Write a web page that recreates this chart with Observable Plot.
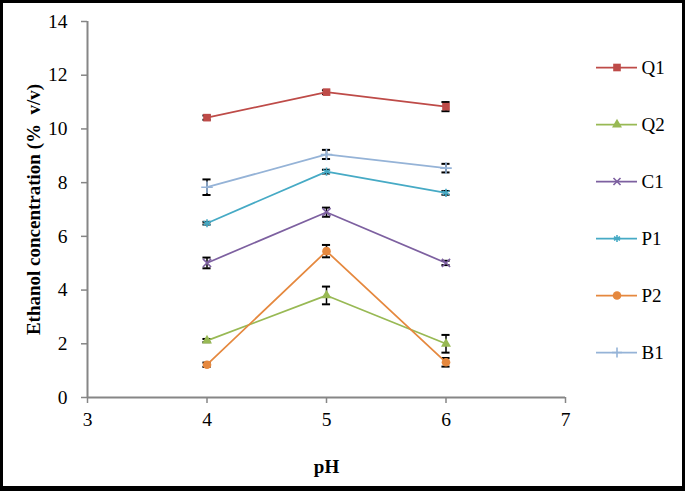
<!DOCTYPE html>
<html>
<head>
<meta charset="utf-8">
<script src="https://cdn.jsdelivr.net/npm/d3@7"></script>
<script src="https://cdn.jsdelivr.net/npm/@observablehq/plot@0.6"></script>
<style>
  html, body { margin: 0; padding: 0; background: white; }
  #wrap { position: relative; width: 685px; height: 491px; overflow: hidden; background: white; }
  #legend { position: absolute; left: 590px; top: 0; }
  #chart { position: absolute; left: 0; top: 0; }
  #border { position: absolute; left: 0; top: 0; width: 685px; height: 491px; box-sizing: border-box;
            border-style: solid; border-color: black; border-width: 3px 3px 5px 3px; pointer-events: none; }
</style>
</head>
<body>
<div id="wrap"><div id="chart"></div><div id="legend"></div><div id="border"></div></div>
<script>
const pH = [4, 5, 6];
const seriesNames = ["Q1", "Q2", "C1", "P1", "P2", "B1"];
const Q1 = [10.42, 11.37, 10.83];
const Q2 = [2.12, 3.80, 2.00];
const C1 = [5.01, 6.90, 5.01];
const P1 = [6.49, 8.41, 7.62];
const P2 = [1.22, 5.45, 1.31];
const B1 = [7.83, 9.05, 8.54];
const errQ1 = [0.08, 0.07, 0.17];
const errQ2 = [0.06, 0.33, 0.33];
const errC1 = [0.20, 0.17, 0.08];
const errP1 = [0.05, 0.07, 0.07];
const errP2 = [0.08, 0.23, 0.16];
const errB1 = [0.29, 0.17, 0.16];
const xTicks = [3, 4, 5, 6, 7];
const yTicks = [0, 2, 4, 6, 8, 10, 12, 14];
const colors = ["#BE4B48", "#98B954", "#7D60A0", "#46AAC5", "#E5883E", "#95B3D7"];
const symbols = ["square", "triangle", "times", "asterisk", "circle", "plus"];
const yLabel = "Ethanol concentration (%  v/v)";
const xLabel = "pH";

const values = [Q1, Q2, C1, P1, P2, B1];
const errs = [errQ1, errQ2, errC1, errP1, errP2, errB1];
const rows = seriesNames.flatMap((n, i) => pH.map((x, j) => ({name: n, pH: x, value: values[i][j], err: errs[i][j]})));
const bigFilled = new Set(["Q1", "P2"]);
const strokeSet = new Set(["C1", "P1", "B1"]);
const capHalf = 0.034;
const font = "'Liberation Serif', 'Times New Roman', serif";

function markerMarks(data, opts) {
  return [
    Plot.dot(data.filter(d => bigFilled.has(opts.name(d))), {...opts.pos, symbol: opts.name, fill: opts.name, r: 4.3}),
    Plot.dot(data.filter(d => opts.name(d) === "Q2"), {...opts.pos, symbol: opts.name, fill: opts.name, r: 3.7}),
    Plot.dot(data.filter(d => strokeSet.has(opts.name(d))), {...opts.pos, symbol: opts.name, stroke: opts.name, r: opts.sr, strokeWidth: 1.6})
  ];
}

const chart = Plot.plot({
  width: 685, height: 491,
  marginLeft: 87, marginRight: 120, marginTop: 21, marginBottom: 94,
  x: {domain: [3, 7]},
  y: {domain: [0, 14]},
  color: {domain: seriesNames, range: colors},
  symbol: {domain: seriesNames, range: symbols},
  style: {fontFamily: font, fontSize: "19px", background: "white", color: "black"},
  marks: [
    Plot.axisY({ticks: yTicks, tickFormat: d => String(d), tickSize: 6, tickPadding: 14, stroke: "#868686", fill: "black", label: null, fontSize: 19.5, strokeWidth: 1.5}),
    Plot.axisX({ticks: xTicks, tickFormat: d => String(d), tickSize: 6, tickPadding: 9, stroke: "#868686", fill: "black", label: null, fontSize: 19.5, strokeWidth: 1.5}),
    Plot.ruleX([3], {stroke: "#868686", strokeWidth: 2}),
    Plot.ruleY([0], {stroke: "#868686", strokeWidth: 2}),
    Plot.ruleX(rows, {x: "pH", y1: d => d.value - d.err, y2: d => d.value + d.err, stroke: "black", strokeWidth: 1.5}),
    Plot.ruleY(rows, {y: d => d.value - d.err, x1: d => d.pH - capHalf, x2: d => d.pH + capHalf, stroke: "black", strokeWidth: 2}),
    Plot.ruleY(rows, {y: d => d.value + d.err, x1: d => d.pH - capHalf, x2: d => d.pH + capHalf, stroke: "black", strokeWidth: 2}),
    Plot.line(rows, {x: "pH", y: "value", z: "name", stroke: "name", strokeWidth: 1.75}),
    ...markerMarks(rows, {name: d => d.name, pos: {x: "pH", y: "value"}, sr: 3.8}),
    Plot.text([yLabel], {frameAnchor: "left", dx: -54, rotate: -90, textAnchor: "middle", fontWeight: "bold", fontSize: 19, fill: "black"}),
    Plot.text([xLabel], {frameAnchor: "bottom", dy: 69, lineAnchor: "middle", fontWeight: "bold", fontSize: 19, fill: "black"})
  ]
});
document.getElementById("chart").append(chart);

const legend = Plot.plot({
  width: 95, height: 491,
  margin: 0,
  x: {domain: [0, 1], range: [6, 47], axis: null},
  y: {type: "point", domain: seriesNames, range: [65, 353], padding: 0, axis: null},
  color: {domain: seriesNames, range: colors},
  symbol: {domain: seriesNames, range: symbols},
  style: {fontFamily: font, fontSize: "19px", background: "transparent"},
  marks: [
    Plot.ruleY(seriesNames, {y: d => d, x1: 0, x2: 1, stroke: d => d, strokeWidth: 1.75}),
    ...markerMarks(seriesNames, {name: d => d, pos: {x: () => 0.5, y: d => d}, sr: 3.3}),
    Plot.text(seriesNames, {x: 1, y: d => d, dx: 4, textAnchor: "start", fill: "black", fontSize: 19})
  ]
});
document.getElementById("legend").append(legend);
</script>
</body>
</html>
